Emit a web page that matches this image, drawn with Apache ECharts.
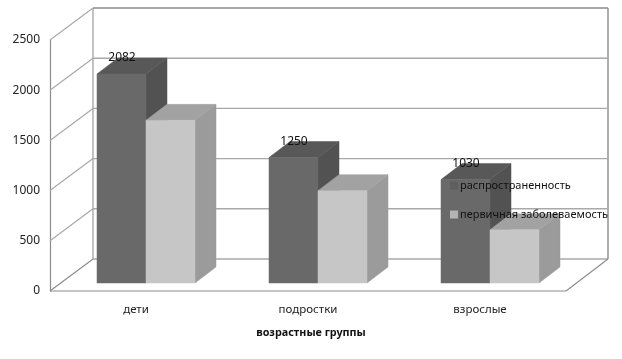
<!DOCTYPE html>
<html>
<head>
<meta charset="utf-8">
<style>html,body{margin:0;padding:0;background:#fff}#c{width:622px;height:359px}</style>
<script src="https://cdn.jsdelivr.net/npm/echarts@6/dist/echarts.min.js"></script>
</head>
<body>
<div id="c"></div>
<script>
const categories = ['дети', 'подростки', 'взрослые'];
const prevalence = [2082, 1250, 1030];
const incidence = [1620, 920, 530];
const yTicks = [0, 500, 1000, 1500, 2000, 2500];
const seriesNames = ['распространенность', 'первичная заболеваемость'];

const FONT = '"Noto Sans", sans-serif';
const DEPTH = [43, -32], BAR_DEPTH = [21, -16], BASE = [10, -8];
const WALL = '#a9a9a9', AXIS = '#8c8c8c';
const RIGHT_WALL_X = 608;

function wallItem(params, api) {
  const v = api.value(0);
  const p = api.coord([0, v]);
  const cs = params.coordSys;
  const x0 = cs.x, y = p[1];
  const bx = x0 + DEPTH[0], by = y + DEPTH[1];
  const children = [];
  const isFloor = v === 0;
  const line = (a, b, c, d, col, w) => ({
    type: 'line', shape: { x1: a, y1: b, x2: c, y2: d },
    style: { stroke: col, lineWidth: w }
  });
  children.push(line(x0, y, bx, by, isFloor ? AXIS : WALL, 1.2));
  children.push(line(bx, by, RIGHT_WALL_X, by, v === yTicks[yTicks.length - 1] ? AXIS : WALL, 1.4));
  if (isFloor) {
    children.push(line(x0 + cs.width, y, RIGHT_WALL_X, by, AXIS, 1.2));
    children.push(line(x0, y, x0 + cs.width, y, AXIS, 1.2));
    const t = api.coord([0, yTicks[yTicks.length - 1]])[1] + DEPTH[1];
    children.push(line(bx, by, bx, t, WALL, 1.4));
    children.push(line(RIGHT_WALL_X, by, RIGHT_WALL_X, t, AXIS, 1.4));
  }
  return { type: 'group', children };
}

function barItem(offsetIndex, front, top, side, showLabel) {
  return function (params, api) {
    const cat = api.value(0), val = api.value(1);
    const w = api.size([1, 0])[0] * 49 / 172;
    const c = api.coord([cat, val]);
    const o = api.coord([cat, 0]);
    const x = c[0] + BASE[0] + (offsetIndex - 1) * w;
    const yT = c[1] + BASE[1], yB = o[1] + BASE[1];
    const dx = BAR_DEPTH[0], dy = BAR_DEPTH[1];
    const poly = (pts, col) => ({ type: 'polygon', shape: { points: pts }, style: { fill: col, stroke: col, lineWidth: 0.5 } });
    const children = [
      poly([[x + w, yT], [x + w + dx, yT + dy], [x + w + dx, yB + dy], [x + w, yB]], side),
      poly([[x, yT], [x + dx, yT + dy], [x + w + dx, yT + dy], [x + w, yT]], top),
      poly([[x, yT], [x + w, yT], [x + w, yB], [x, yB]], front)
    ];
    if (showLabel) {
      children.push({
        type: 'text', z2: 10,
        style: { text: String(val), x: x + w / 2 + 0.5, y: yT - 16, align: 'center', verticalAlign: 'middle', font: '12px ' + FONT, fill: '#111' }
      });
    }
    return { type: 'group', children };
  };
}

const chart = echarts.init(document.getElementById('c'), null, { renderer: 'canvas' });
chart.setOption({
  animation: false,
  backgroundColor: '#fff',
  grid: { left: 50, right: 56, top: 40, bottom: 68, containLabel: false },
  xAxis: {
    type: 'category', data: categories,
    name: 'возрастные группы', nameLocation: 'middle', nameGap: 36,
    nameTextStyle: { fontFamily: FONT, fontSize: 10.8, fontWeight: 'bold', color: '#111', padding: [0, 0, 0, 6] },
    axisLine: { show: false }, axisTick: { show: false },
    axisLabel: { fontFamily: FONT, fontSize: 11.5, color: '#222', margin: 13 }
  },
  yAxis: {
    type: 'value', min: 0, max: 2500, interval: 500,
    axisLine: { show: true, lineStyle: { color: AXIS, width: 1.2 } },
    axisTick: { show: false }, splitLine: { show: false },
    axisLabel: { fontFamily: FONT, fontSize: 12, color: '#222', margin: 10, padding: [2, 0, 0, 0], formatter: v => String(v) }
  },
  legend: {
    data: seriesNames, orient: 'vertical', left: 445, top: 175, itemGap: 18,
    itemWidth: 8, itemHeight: 8, icon: 'rect', z: 20,
    textStyle: { fontFamily: FONT, fontSize: 11, color: '#111', padding: [0, 0, 0, -3] }
  },
  series: [
    { type: 'custom', coordinateSystem: 'cartesian2d', clip: false, z: 1, silent: true,
      data: yTicks.map(v => [v]), encode: { y: 0 }, renderItem: wallItem },
    { name: seriesNames[0], type: 'custom', clip: false, z: 2, itemStyle: { color: '#5f5f5f' },
      data: categories.map((_, i) => [i, prevalence[i]]), encode: { x: 0, y: 1 },
      renderItem: barItem(0, '#696969', '#585858', '#525252', true) },
    { name: seriesNames[1], type: 'custom', clip: false, z: 3, itemStyle: { color: '#b4b4b4' },
      data: categories.map((_, i) => [i, incidence[i]]), encode: { x: 0, y: 1 },
      renderItem: barItem(1, '#c6c6c6', '#a2a2a2', '#9b9b9b', false) }
  ]
});
</script>
</body>
</html>
